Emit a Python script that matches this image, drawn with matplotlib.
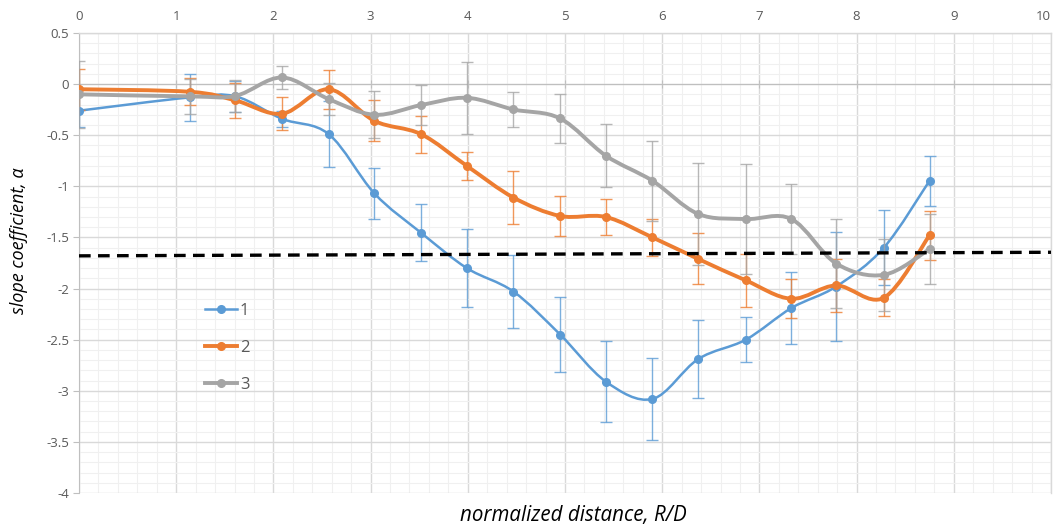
import matplotlib
matplotlib.use("Agg")
import matplotlib.pyplot as plt
from matplotlib.path import Path
from matplotlib.patches import PathPatch
from matplotlib.lines import Line2D
from matplotlib.ticker import MultipleLocator, FuncFormatter
import numpy as np

# ---- data ----
x_vals = [0.0, 1.14, 1.61, 2.09, 2.57, 3.04, 3.52, 3.99, 4.47, 4.95, 5.42, 5.90,
          6.37, 6.86, 7.33, 7.79, 8.28, 8.75]

s1_y = [-0.26, -0.13, -0.12, -0.34, -0.49, -1.07, -1.455, -1.80, -2.03, -2.45, -2.91,
        -3.08, -2.69, -2.50, -2.19, -1.98, -1.60, -0.946]
s1_err = [0.16, 0.23, 0.15, 0.08, 0.32, 0.25, 0.28, 0.38, 0.36, 0.37, 0.40, 0.40,
          0.38, 0.22, 0.35, 0.53, 0.37, 0.245]

s2_y = [-0.05, -0.075, -0.16, -0.29, -0.05, -0.36, -0.49, -0.80, -1.11, -1.29, -1.30,
        -1.50, -1.71, -1.92, -2.10, -1.97, -2.09, -1.48]
s2_err = [0.20, 0.13, 0.17, 0.16, 0.19, 0.20, 0.18, 0.14, 0.26, 0.20, 0.18, 0.18,
          0.25, 0.26, 0.19, 0.26, 0.18, 0.24]

s3_y = [-0.10, -0.12, -0.115, 0.065, -0.147, -0.30, -0.205, -0.134, -0.248, -0.336,
        -0.70, -0.946, -1.27, -1.32, -1.32, -1.755, -1.866, -1.615]
s3_err = [0.33, 0.17, 0.155, 0.11, 0.16, 0.23, 0.195, 0.35, 0.175, 0.24, 0.305, 0.39,
          0.50, 0.54, 0.34, 0.44, 0.35, 0.34]

series_labels = ["1", "2", "3"]
threshold_x = [0.0, 10.0]
threshold_y = [-1.68, -1.645]

x_ticks = list(range(0, 11))
y_ticks = [0.5, 0, -0.5, -1, -1.5, -2, -2.5, -3, -3.5, -4]

colors = ["#5B9BD5", "#ED7D31", "#A5A5A5"]
line_widths = [1.8, 2.8, 2.8]

plt.rcParams['font.family'] = ['Open Sans', 'DejaVu Sans']

fig = plt.figure(figsize=(10.57, 5.28), dpi=100)
ax = fig.add_axes([79 / 1057, 35 / 528, (1051 - 79) / 1057, (493 - 33) / 528])

ax.set_xlim(0, 10)
ax.set_ylim(-4, 0.5)

# grid
ax.xaxis.set_major_locator(MultipleLocator(1))
ax.xaxis.set_minor_locator(MultipleLocator(0.2))
ax.yaxis.set_major_locator(MultipleLocator(0.5))
ax.yaxis.set_minor_locator(MultipleLocator(0.1))
ax.grid(which='major', color='#d9d9d9', lw=1.0, zorder=0)
ax.grid(which='minor', color='#f0f0f0', lw=0.8, zorder=0)
ax.set_axisbelow(True)

for side in ['top', 'right']:
    ax.spines[side].set_color('#d9d9d9')
    ax.spines[side].set_linewidth(1.0)
ax.spines['left'].set_color('#bfbfbf')
ax.spines['bottom'].set_position(('data', 0))
ax.spines['bottom'].set_color('#bfbfbf')
ax.spines['bottom'].set_zorder(1)

ax.set_xticks(x_ticks)
ax.set_yticks(y_ticks)
ax.tick_params(axis='x', which='major', direction='inout', length=6, color='#bfbfbf',
               bottom=True, top=False, labelbottom=False, labeltop=True,
               labelsize=9.5, labelcolor='#595959', pad=4)
ax.tick_params(axis='x', which='minor', bottom=False, top=False)
ax.tick_params(axis='y', which='major', direction='out', length=4, color='#bfbfbf',
               labelsize=9.5, labelcolor='#595959', pad=3)
ax.tick_params(axis='y', which='minor', left=False)
ax.yaxis.set_major_formatter(FuncFormatter(lambda v, p: ('%g' % v).replace('−', '-')))

# keep the last top label inside the image
fig.canvas.draw()
ax.get_xticklabels()[-1].set_horizontalalignment('right')
ax.get_xticklabels()[-1].set_x(10)


def smooth_path(xs, ys):
    pts = np.column_stack([xs, ys])
    n = len(pts)
    verts = [pts[0]]
    codes = [Path.MOVETO]
    for i in range(n - 1):
        p0 = pts[i - 1] if i > 0 else pts[i]
        p1 = pts[i]
        p2 = pts[i + 1]
        p3 = pts[i + 2] if i + 2 < n else pts[i + 1]
        c1 = p1 + (p2 - p0) / 6.0
        c2 = p2 - (p3 - p1) / 6.0
        verts += [c1, c2, p2]
        codes += [Path.CURVE4] * 3
    return Path(verts, codes)


all_y = [s1_y, s2_y, s3_y]
all_err = [s1_err, s2_err, s3_err]
handles = []
for k, (ys, errs) in enumerate(zip(all_y, all_err)):
    c = colors[k]
    ax.errorbar(x_vals, ys, yerr=errs, fmt='none', ecolor=c, elinewidth=1.0,
                capsize=4, capthick=1.0, alpha=0.8, zorder=3 + k)
    patch = PathPatch(smooth_path(x_vals, ys), fill=False, edgecolor=c,
                      lw=line_widths[k], zorder=4 + k, capstyle='round', joinstyle='round')
    ax.add_patch(patch)
    ax.plot(x_vals, ys, linestyle='none', marker='o', markersize=5.5, color=c,
            zorder=5 + k)
    handles.append(Line2D([0], [0], color=c, lw=line_widths[k], marker='o',
                          markersize=5.5))

ax.plot(threshold_x, threshold_y, color='black', lw=2.4, dashes=(3.5, 2.2),
        zorder=10, clip_on=False)

leg = fig.legend(handles, series_labels, loc='center left',
                 bbox_to_anchor=(205 / 1057, (528 - 348) / 528),
                 frameon=False, fontsize=12, handlelength=1.9, handletextpad=0.2,
                 labelspacing=1.25, borderpad=0, borderaxespad=0, labelcolor='#595959')

fig.text(573.5 / 1057, 1 - 516 / 528, 'normalized distance, R/D', ha='center', va='center',
         fontsize=14.8, style='italic', color='black')
fig.text(19 / 1057, 1 - 241 / 528, 'slope coefficient, α', ha='center', va='center',
         rotation=90, fontsize=13, style='italic', color='black')

fig.savefig('out.png', dpi=100)
